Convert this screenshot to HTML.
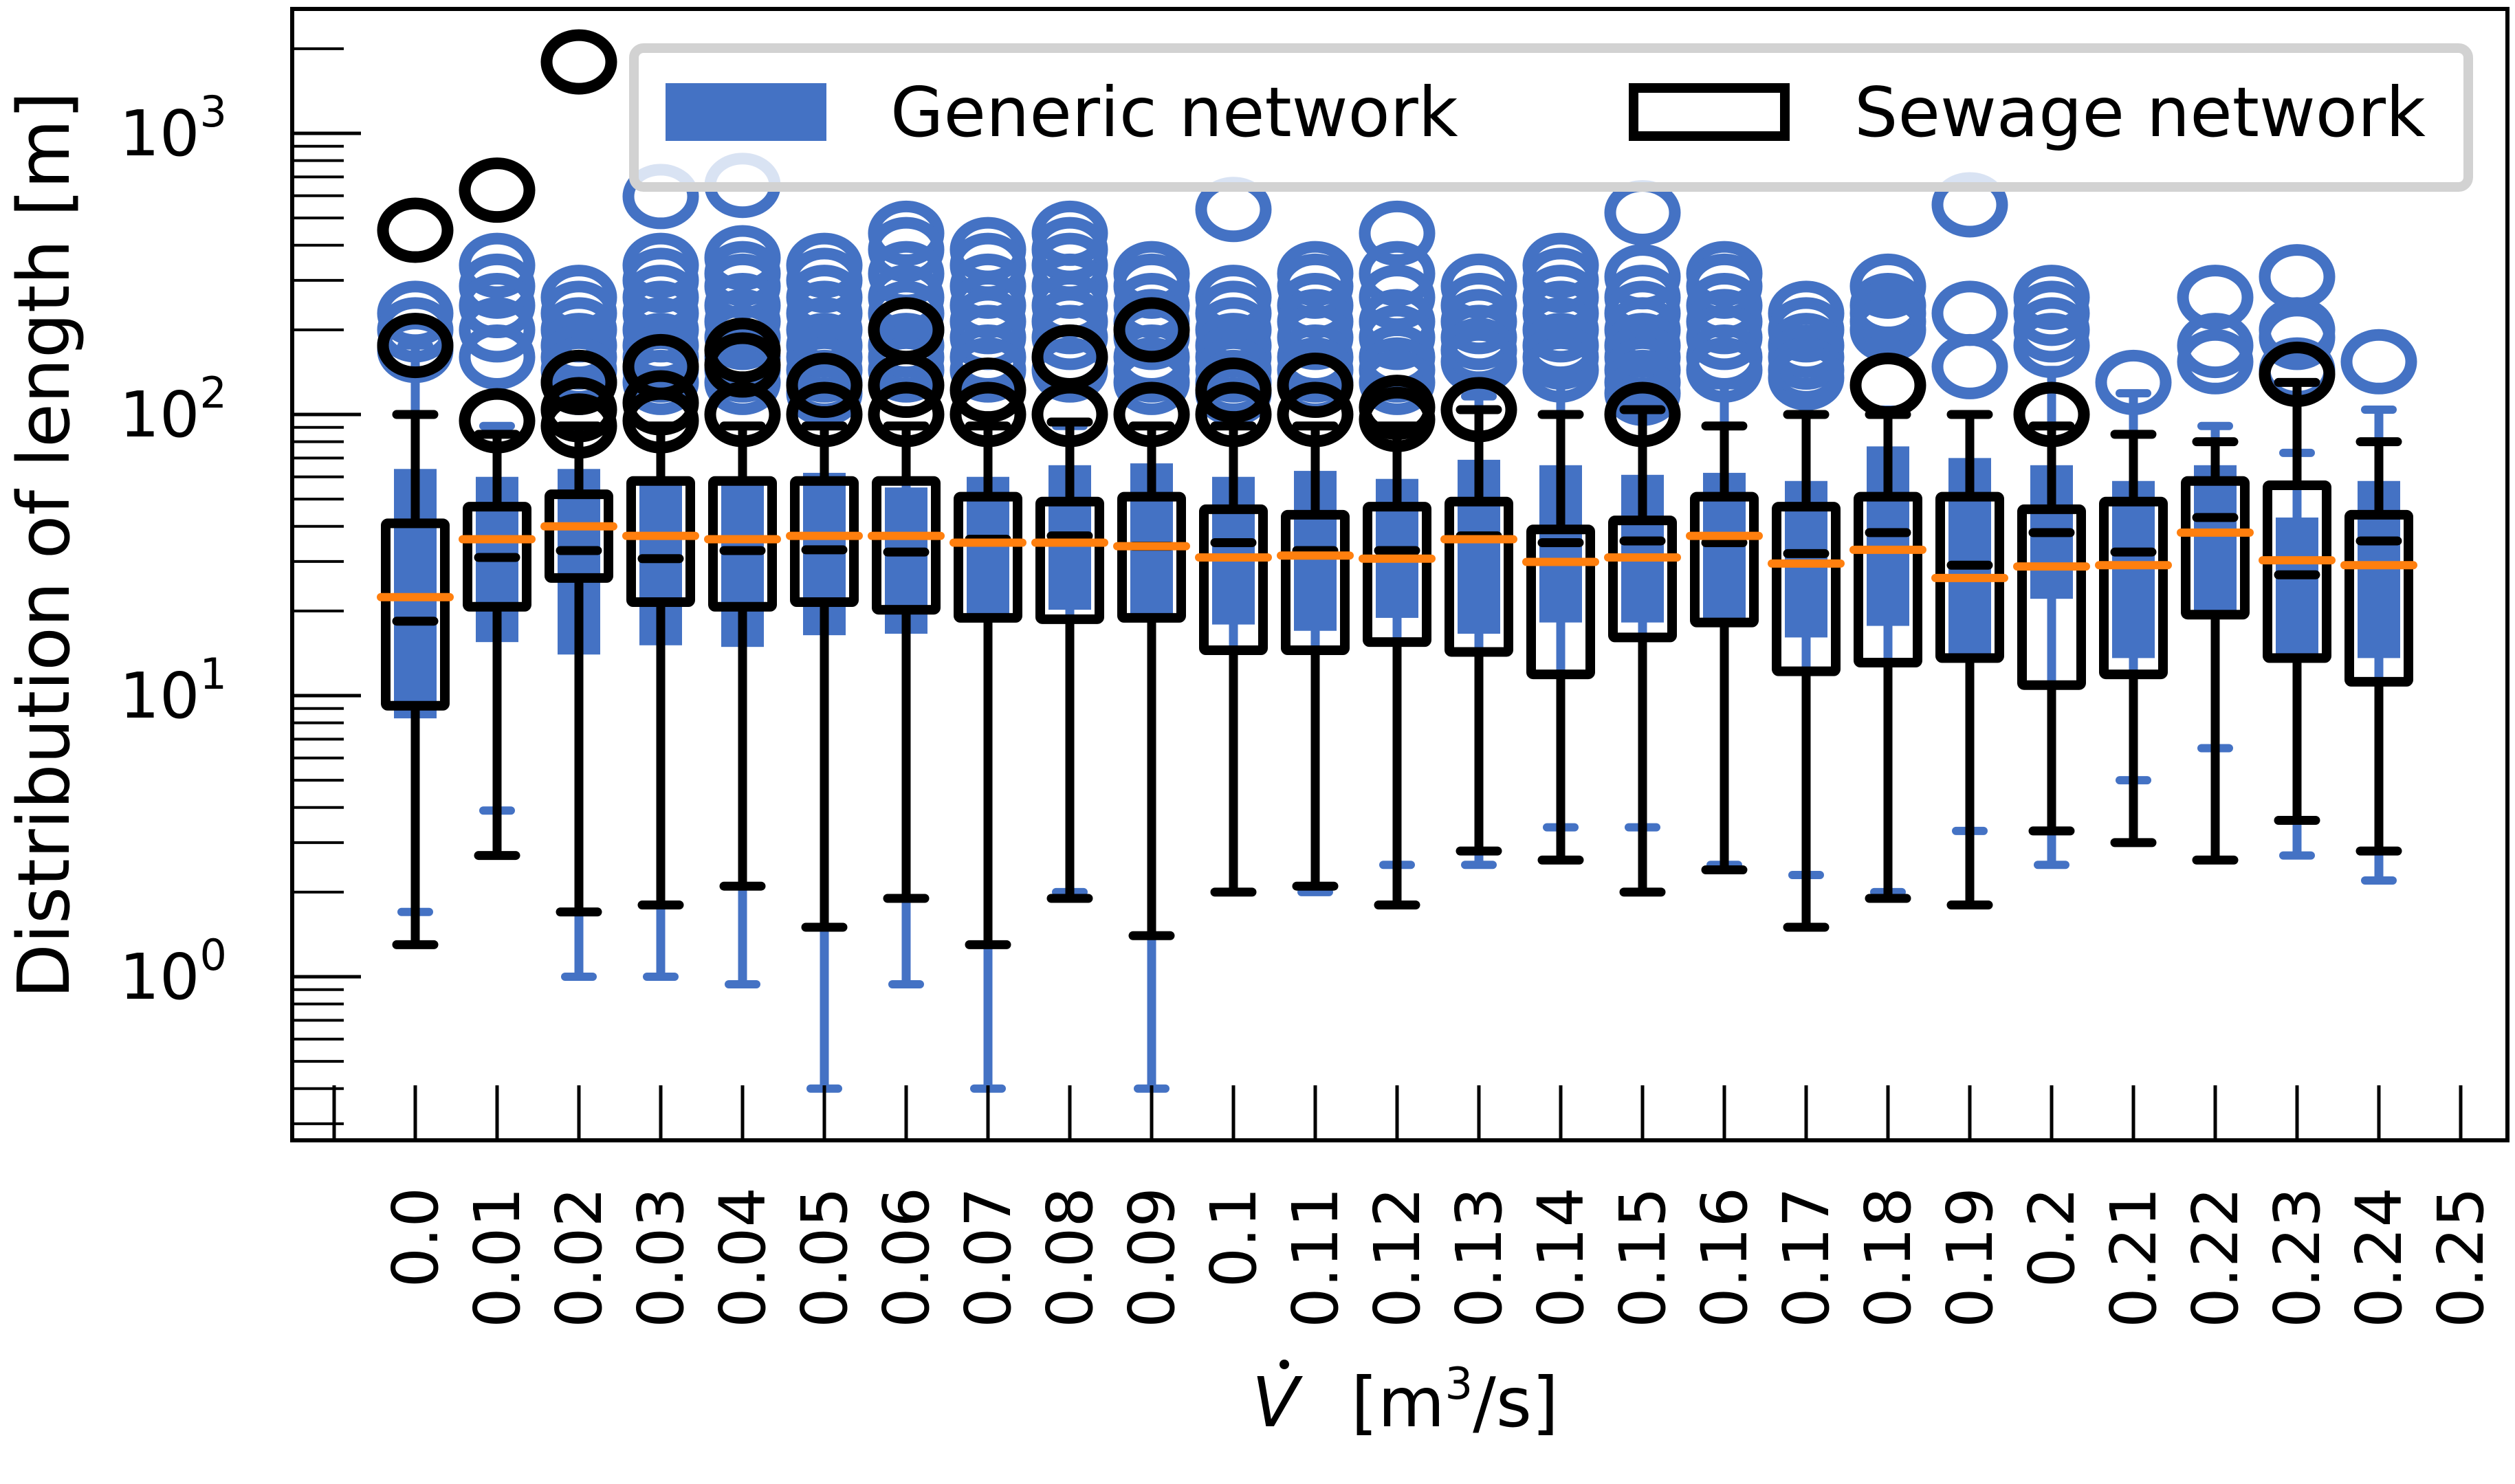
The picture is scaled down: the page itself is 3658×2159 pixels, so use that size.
<!DOCTYPE html>
<html><head><meta charset="utf-8"><style>
html,body{margin:0;padding:0;background:#fff;}
svg{display:block;font-family:"DejaVu Sans","Liberation Sans",sans-serif;}
</style></head><body>
<svg id="chart" width="3658" height="2159" viewBox="0 0 3658 2159" xmlns="http://www.w3.org/2000/svg">
<rect width="3658" height="2159" fill="#fff"/>
<g id="marks"></g>
<g id="axes"></g>
<g id="legend">
 <rect x="922" y="70" width="2668" height="202" rx="14" fill="#fff" fill-opacity="0.8" stroke="#d2d2d2" stroke-width="14"/>
 <rect x="968" y="121" width="234" height="84" fill="#4472c4"/>
 <text x="1295" y="198" font-size="100">Generic network</text>
 <rect x="2376" y="128" width="220" height="70" fill="none" stroke="#000" stroke-width="14"/>
 <text x="2697" y="198" font-size="100">Sewage network</text>
</g>
<text transform="translate(100,793) rotate(-90)" text-anchor="middle" font-size="104">Distribution of length [m]</text>
<g>
<text x="1855" y="2075" text-anchor="middle" font-size="100" font-style="italic">V</text>
<circle cx="1868" cy="1985" r="7" fill="#000"/>
<text x="1965" y="2075" font-size="100">[m<tspan font-size="64" dy="-40">3</tspan><tspan dy="40">/s]</tspan></text>
</g>
</svg>
<script>
const categories = ["0.0","0.01","0.02","0.03","0.04","0.05","0.06","0.07","0.08","0.09","0.1","0.11","0.12","0.13","0.14","0.15","0.16","0.17","0.18","0.19","0.2","0.21","0.22","0.23","0.24","0.25"];
const genQ1 = [8.3,15.5,14.0,15.1,14.9,16.4,16.6,18.7,20.2,18.9,17.9,17.0,18.9,16.6,18.2,18.2,18.9,16.1,17.7,14.0,22.1,13.6,19.4,13.6,13.6];
const genQ3 = [64,60,64,59,60,62,55,60,66,67,60,63,59,69,66,61,62,58,77,70,66,58,66,43,58];
const genMed = [22.4,36,40,37,36,37,37,35,35,34,31,31.5,30.7,36,29.9,31,37,29.5,33,26.2,28.8,29.1,38,30.3,29.1];
const genLo = [1.7,3.9,1.0,1.0,0.94,0.40,0.94,0.40,2.0,0.40,2.0,2.0,2.5,2.5,3.4,3.4,2.5,2.3,2.0,3.3,2.5,5.0,6.5,2.7,2.2];
const genHi = [176,91,88,91,91,91,91,91,91,91,91,91,91,116,135,111,127,111,104,100,144,119,91,73,104];
const genFliers = [[229,200,176,169],[339,286,244,200,160],[261,229,200,176,160,144,130],[596,339,300,261,229,200,176,160,144,130],[653,361,317,286,244,214,188,160,144,130],[339,300,261,229,200,176,160,144,130,119],[441,386,317,261,229,200,176,160,144],[386,339,286,244,214,188,160,144],[441,386,339,286,244,214,188,160,144],[317,286,244,214,188,160,144,130],[536,261,229,200,176,160,144,130,119],[317,286,244,214,188,160,144,130],[441,317,261,214,188,160,144,130],[286,244,214,188,169,154],[339,300,261,229,200,176,160,144],[522,309,261,229,200,176,160,144,130,119],[317,286,244,214,188,160,144],[229,200,176,160,144,135],[286,244,229,214,200],[557,229,148],[261,229,200,176],[130],[261,176,154],[309,200,188,144],[154]];
const sewQ1 = [9.2,20.7,26.2,21.5,20.7,21.5,20.2,18.9,18.7,18.9,14.5,14.5,15.5,14.3,11.9,16.1,18.2,12.2,13.1,13.6,10.9,11.9,19.4,13.6,11.2];
const sewQ3 = [41,47,52,58,58,58,58,51,49,51,46,44,47,49,39,42,51,47,51,51,46,49,58,56,44];
const sewMed = [18.4,31,32.8,30.7,32.8,33,32.4,36,37,34,35,32.8,32.8,37,35,35.5,35,32,38,29.1,38,32.4,43,26.9,35.5];
const sewLo = [1.3,2.7,1.7,1.8,2.1,1.5,1.9,1.3,1.9,1.4,2.0,2.1,1.8,2.8,2.6,2.0,2.4,1.5,1.9,1.8,3.3,3.0,2.6,3.6,2.8];
const sewHi = [100,85,91,91,91,91,91,91,94,91,91,91,91,104,100,104,91,100,100,100,91,85,80,130,80];
const sewFliers = [[452,176],[628,95],[1795,130,104,91],[148,110,95],[169,150,100],[127,100],[200,127,100],[122,100],[160,100],[200,100],[122,100],[127,100],[106,96],[104],[],[100],[],[],[127],[],[100],[],[],[139],[]];
const yTickExp = [0,1,2,3];

const NS="http://www.w3.org/2000/svg";
const L=425,R=3647,T=13,B=1659;
function xs(i){return 604+i*119;}
function ys(v){return 1421-409*Math.log10(v);}
const marks=document.getElementById('marks');
const axes=document.getElementById('axes');
function mk(tag,attrs,parent){const e=document.createElementNS(NS,tag);for(const k in attrs)e.setAttribute(k,attrs[k]);parent.appendChild(e);return e;}
const BLUE="#4472c4";
const clip=mk('clipPath',{id:'pc'},marks);mk('rect',{x:L,y:T,width:R-L,height:B-T},clip);
const g=mk('g',{'clip-path':'url(#pc)'},marks);

for(let i=0;i<genQ1.length;i++){
  const x=xs(i);
  let e=mk('line',{x1:x,x2:x,y1:ys(genLo[i]),y2:ys(genHi[i]),stroke:BLUE,'stroke-width':13},g);
  
  
  for(const v of [genLo[i],genHi[i]]){
    e=mk('line',{x1:x-20,x2:x+20,y1:ys(v),y2:ys(v),stroke:BLUE,'stroke-width':12,'stroke-linecap':'round'},g);
    
    
  }
  e=mk('rect',{x:x-31,y:ys(genQ3[i]),width:62,height:ys(genQ1[i])-ys(genQ3[i]),fill:BLUE},g);
  
  
  for(const f of genFliers[i]){
    e=mk('ellipse',{cx:x,cy:ys(f),rx:47,ry:39,fill:'none',stroke:BLUE,'stroke-width':17},g);
    
    
  }
}
for(let i=0;i<sewQ1.length;i++){
  const x=xs(i);
  let e=mk('line',{x1:x,x2:x,y1:ys(sewLo[i]),y2:ys(sewQ1[i]),stroke:'#000','stroke-width':13},g);
  
  
  e=mk('line',{x1:x,x2:x,y1:ys(sewQ3[i]),y2:ys(sewHi[i]),stroke:'#000','stroke-width':13},g);
  
  
  for(const v of [sewLo[i],sewHi[i]]){
    e=mk('line',{x1:x-27,x2:x+27,y1:ys(v),y2:ys(v),stroke:'#000','stroke-width':13,'stroke-linecap':'round'},g);
    
    
  }
  e=mk('rect',{x:x-43,y:ys(sewQ3[i]),width:86,height:ys(sewQ1[i])-ys(sewQ3[i]),fill:'none',stroke:'#000','stroke-width':14,rx:3},g);
  
  
  e=mk('line',{x1:x-27,x2:x+27,y1:ys(sewMed[i]),y2:ys(sewMed[i]),stroke:'#000','stroke-width':13,'stroke-linecap':'round'},g);
  
  
  for(const f of sewFliers[i]){
    e=mk('ellipse',{cx:x,cy:ys(f),rx:47,ry:39,fill:'none',stroke:'#000','stroke-width':17},g);
    
    
  }
}
for(let i=0;i<genMed.length;i++){
  const x=xs(i);
  const e=mk('line',{x1:x-50,x2:x+50,y1:ys(genMed[i]),y2:ys(genMed[i]),stroke:'#ff7f0e','stroke-width':12,'stroke-linecap':'round'},g);
  
  
}
let fr=mk('rect',{x:L,y:T,width:R-L,height:B-T,fill:'none',stroke:'#000','stroke-width':6},axes);


for(let d=-1;d<=3;d++){
  for(let m=1;m<=9;m++){
    const v=m*Math.pow(10,d);const y=ys(v);
    if(y<T+3||y>B-3)continue;
    const major=(m===1);
    const e=mk('line',{x1:L,x2:L+(major?100:75),y1:y,y2:y,stroke:'#000','stroke-width':major?5:4},axes);
    
    
  }
}
for(const p of yTickExp){
  const t=mk('text',{x:330,y:ys(Math.pow(10,p))+32,'text-anchor':'end','font-size':92},axes);
  
  
  t.textContent='10';
  const s=mk('tspan',{'font-size':62,dy:-42},t);s.textContent=String(p);
}
let xt=mk('line',{x1:486,x2:486,y1:B-80,y2:B,stroke:'#000','stroke-width':5},axes);


for(let i=0;i<categories.length;i++){
  const x=xs(i);
  let e=mk('line',{x1:x,x2:x,y1:B-80,y2:B,stroke:'#000','stroke-width':5},axes);
  
  
  e=mk('text',{transform:`translate(${x+32},1727) rotate(-90)`,'text-anchor':'end','font-size':92},axes);
  
  
  e.textContent=categories[i];
}
</script>
</body></html>
